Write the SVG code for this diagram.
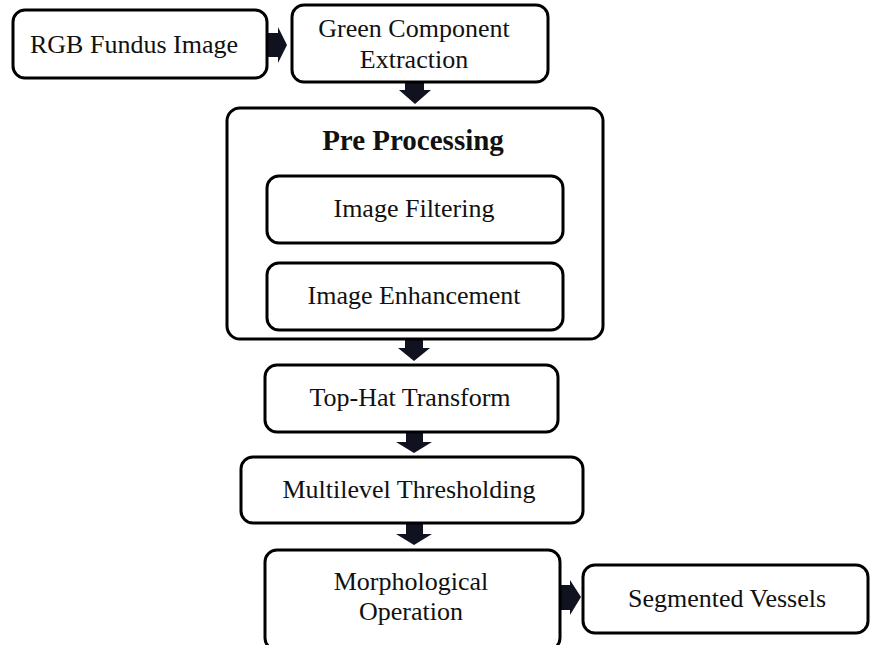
<svg xmlns="http://www.w3.org/2000/svg" width="870" height="645" viewBox="0 0 870 645">
<style>
.box{fill:#fff;stroke:#000;stroke-width:3}
.t{font-family:"Liberation Serif","Times New Roman",serif;font-size:26px;fill:#111;text-anchor:middle}
.b{font-weight:bold;font-size:29px}
.ar{fill:#10131f}
</style>
<rect width="870" height="645" fill="#fff"/>
<g id="connectors">
<path class="ar" d="M267,33 H278 V27 L287,45 L278,63 V57 H267 Z"/>
<path class="ar" d="M405,82 H424 V90 H431 L415,104 L399,90 H405 Z"/>
<path class="ar" d="M405,340 H423 V348 H430 L414,361 L398,348 H405 Z"/>
<path class="ar" d="M406,432 H423 V442 H432 L414,453 L396,442 H406 Z"/>
<path class="ar" d="M406,523 H423 V534 H432 L414,545 L396,534 H406 Z"/>
<path class="ar" d="M558,585 H570 V580 L581,597 L570,615 V610 H558 Z"/>
</g>
<g id="rgb">
<rect class="box" x="13" y="10" width="254" height="68" rx="12"/>
<text class="t" x="134" y="53">RGB Fundus Image</text>
</g>
<g id="green">
<rect class="box" x="292" y="5" width="256" height="77" rx="12"/>
<text class="t" x="414" y="37">Green Component</text>
<text class="t" x="414" y="68">Extraction</text>
</g>
<g id="preprocessing">
<rect class="box" x="227" y="108" width="376" height="231" rx="13"/>
<text class="t b" x="413" y="150">Pre Processing</text>
</g>
<g id="filtering">
<rect class="box" x="267" y="176" width="296" height="67" rx="12"/>
<text class="t" x="414" y="217">Image Filtering</text>
</g>
<g id="enhancement">
<rect class="box" x="267" y="263" width="296" height="67" rx="12"/>
<text class="t" x="414" y="304">Image Enhancement</text>
</g>
<g id="tophat">
<rect class="box" x="265" y="365" width="293" height="67" rx="12"/>
<text class="t" x="410" y="406">Top-Hat Transform</text>
</g>
<g id="multilevel">
<rect class="box" x="241" y="457" width="342" height="66" rx="12"/>
<text class="t" x="409" y="498">Multilevel Thresholding</text>
</g>
<g id="morph">
<rect class="box" x="265" y="550" width="295" height="100" rx="12"/>
<text class="t" x="411" y="590">Morphological</text>
<text class="t" x="411" y="620">Operation</text>
</g>
<g id="segmented">
<rect class="box" x="583" y="565" width="285" height="68" rx="12"/>
<text class="t" x="727" y="607">Segmented Vessels</text>
</g>
</svg>
